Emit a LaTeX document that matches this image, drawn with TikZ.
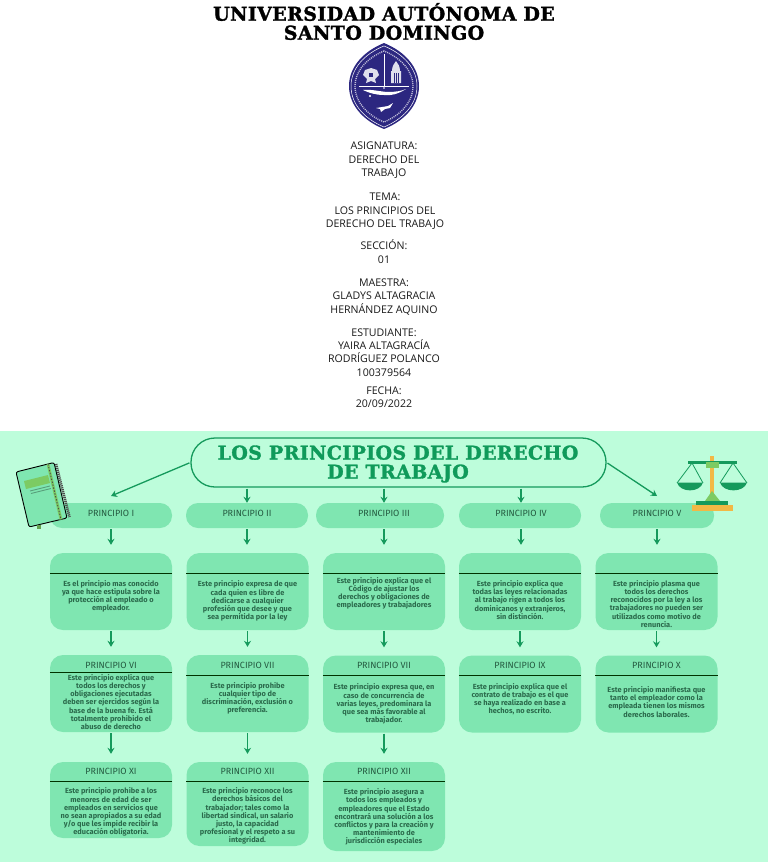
\documentclass[tikz,border=0pt]{standalone}
\usepackage{fontspec}
\setmainfont{Open Sans}
\newfontfamily\titlefont[LetterSpace=2,FakeBold=1.6]{DejaVu Serif}
\newfontfamily\bodyfont{Fira Sans}
\usetikzlibrary{arrows.meta,positioning,shapes.geometric}
\definecolor{panelgreen}{HTML}{BDFDDB}
\definecolor{cardgreen}{HTML}{7FE6B1}
\definecolor{linegreen}{HTML}{159A5C}
\definecolor{inkgreen}{HTML}{2A6A4B}
\definecolor{headgreen}{HTML}{0F9A5A}
\definecolor{seal}{HTML}{2C2780}
\definecolor{scaleorange}{HTML}{F2B845}
\definecolor{leafgreen}{HTML}{7CCB63}
\tikzset{
  pill/.style={fill=cardgreen,rounded corners=12pt,minimum height=25pt,inner sep=0pt},
  cardbox/.style={fill=cardgreen,rounded corners=13pt,inner sep=0pt},
  cardhead/.style={font=\bodyfont\fontsize{9}{10}\selectfont,text=inkgreen!85!black,inner sep=0pt},
  cardtext/.style={font=\bodyfont\bfseries\fontsize{7.4}{8.1}\selectfont,text=inkgreen,align=center,inner sep=0pt},
  divider/.style={black!80!green,line width=.9pt},
  flow/.style={-{Stealth[length=6pt,width=7pt]},linegreen,line width=1.3pt,shorten >=8pt,shorten <=1pt},
  coverblock/.style={align=center,inner sep=0pt,text=black!90,font=\fontsize{10.6}{13.4}\selectfont},
}
\begin{document}
\begin{tikzpicture}[x=1pt,y=-1pt]
	\useasboundingbox (0,0) rectangle (768,862);
	\fill[panelgreen] (0,431) rectangle (768,862);
	% cover page
	\node[align=center,inner sep=0pt,font=\titlefont\bfseries\fontsize{19}{19}\selectfont] (uni) at (384,21.5) {UNIVERSIDAD AUTÓNOMA DE\\SANTO DOMINGO};
	% seal
	\fill[seal] (384,43) .. controls (362,52) and (349,68) .. (349,86) .. controls (349,107) and (366,122) .. (384,129) .. controls (402,122) and (419,107) .. (419,86) .. controls (419,68) and (406,52) .. (384,43) -- cycle;
	\draw[white,line width=.5pt] (384,46) .. controls (364,54) and (351,69) .. (351,86) .. controls (351,106) and (367,120) .. (384,127) .. controls (401,120) and (417,106) .. (417,86) .. controls (417,69) and (404,54) .. (384,46) -- cycle;
	\draw[white!70!seal,line width=1.4pt,dash pattern=on 1pt off 1pt] (384,51) .. controls (367,58) and (355,71) .. (355,86) .. controls (355,103) and (369,116) .. (384,122) .. controls (399,116) and (413,103) .. (413,86) .. controls (413,71) and (401,58) .. (384,51) -- cycle;
	\draw[white,line width=.7pt] (384,54) -- (384,86) (359,86) -- (409,86);
	\fill[white!85!seal] (371,68) -- (377,70) -- (379,75) -- (375,79) -- (376,83) -- (371,81) -- (366,83) -- (367,79) -- (363,75) -- (365,70) -- cycle;
	\fill[seal] (369,73) rectangle (373,77);
	\fill[white!85!seal] (391,83) rectangle (401,71) (392,71) .. controls (392,66) and (394,64) .. (396,61) .. controls (398,64) and (400,66) .. (400,71) -- cycle;
	\draw[seal,line width=.4pt] (394,83) -- (394,73) (396,83) -- (396,73) (398,83) -- (398,73);
	\fill[white] (363,90) .. controls (372,89) and (382,92) .. (388,92) .. controls (395,92) and (402,91) .. (406,89) .. controls (398,94) and (391,96) .. (384,95) .. controls (376,95) and (369,93) .. (363,90) -- cycle;
	\fill[white] (376,108) -- (388,106) -- (393,103) -- (390,108) -- (385,109) -- (381,112) -- (380,109) -- cycle;
	\fill[white] (370,96) circle (1.2) (384,88) circle (.9);
	% cover texts
	\node[coverblock] (asignatura) at (384,160.5) {ASIGNATURA:\\DERECHO DEL\\TRABAJO};
	\node[coverblock] (tema) at (385,211.5) {TEMA:\\LOS PRINCIPIOS DEL\\DERECHO DEL TRABAJO};
	\node[coverblock] (seccion) at (384,251.5) {SECCIÓN:\\01};
	\node[coverblock] (maestra) at (384,297) {MAESTRA:\\GLADYS ALTAGRACIA\\HERNÁNDEZ AQUINO};
	\node[coverblock] (estudiante) at (384,352.5) {ESTUDIANTE:\\YAIRA ALTAGRACÍA\\RODRÍGUEZ POLANCO\\100379564};
	\node[coverblock] (fecha) at (384,397) {FECHA:\\20/09/2022};
	% main title
	\node[draw=linegreen,line width=1.3pt,rounded corners=24pt,minimum width=415pt,minimum height=49pt,inner sep=0pt] (title) at (398.5,462.5) {};
	\node[align=center,inner sep=0pt,text=headgreen,font=\titlefont\bfseries\fontsize{19}{19}\selectfont] (titletext) at (398,464) {LOS PRINCIPIOS DEL DERECHO\\DE TRABAJO};
	% first row
	\node[pill,minimum width=122pt] (p1) at (111,515.5) {};
	\node[pill,minimum width=122pt] (p2) at (247,515.5) {};
	\node[pill,minimum width=128pt] (p3) at (380,515.5) {};
	\node[pill,minimum width=122pt] (p4) at (520,515.5) {};
	\node[pill,minimum width=114pt] (p5) at (657,515.5) {};
	\node[cardhead] (h1) at (111,513) {PRINCIPIO I};
	\node[cardhead] (h2) at (247,513) {PRINCIPIO II};
	\node[cardhead] (h3) at (384,513) {PRINCIPIO III};
	\node[cardhead] (h4) at (521,513) {PRINCIPIO IV};
	\node[cardhead] (h5) at (657,513) {PRINCIPIO V};
	\node[cardbox,minimum width=122pt,minimum height=77pt] (c1) at (111,591.5) {};
	\node[cardbox,minimum width=122pt,minimum height=77pt] (c2) at (247.5,591.5) {};
	\node[cardbox,minimum width=122pt,minimum height=77pt] (c3) at (384,591.5) {};
	\node[cardbox,minimum width=122pt,minimum height=77pt] (c4) at (520,591.5) {};
	\node[cardbox,minimum width=122pt,minimum height=77pt] (c5) at (656.5,591.5) {};
	\draw[divider] (c1.west |- 0,573.5) -- (c1.east |- 0,573.5);
	\draw[divider] (c2.west |- 0,573.5) -- (c2.east |- 0,573.5);
	\draw[divider] (c3.west |- 0,573.5) -- (c3.east |- 0,573.5);
	\draw[divider] (c4.west |- 0,573.5) -- (c4.east |- 0,573.5);
	\draw[divider] (c5.west |- 0,573.5) -- (c5.east |- 0,573.5);
	\node[cardtext] (t1) at (111,596) {Es el principio mas conocido\\ya que hace estipula sobre la\\protección al empleado o\\empleador.};
	\node[cardtext] (t2) at (247.5,601) {Este principio expresa de que\\cada quien es libre de\\dedicarse a cualquier\\profesión que desee y que\\sea permitida por la ley};
	\node[cardtext] (t3) at (384,593) {Este principio explica que el\\Código de ajustar los\\derechos y obligaciones de\\empleadores y trabajadores};
	\node[cardtext] (t4) at (520,600) {Este principio explica que\\todas las leyes relacionadas\\al trabajo rigen a todos los\\dominicanos y extranjeros,\\sin distinción.};
	\node[cardtext] (t5) at (656.5,604) {Este principio plasma que\\todos los derechos\\reconocidos por la ley a los\\trabajadores no pueden ser\\utilizados como motivo de\\renuncia.};
	% second row
	\node[cardbox,minimum width=122pt,minimum height=77pt] (c6) at (111,693.5) {};
	\node[cardbox,minimum width=122pt,minimum height=77pt] (c7) at (247.5,693.5) {};
	\node[cardbox,minimum width=122pt,minimum height=77pt] (c8) at (384,694) {};
	\node[cardbox,minimum width=122pt,minimum height=77pt] (c9) at (520,694) {};
	\node[cardbox,minimum width=122pt,minimum height=77pt] (c10) at (656.5,694) {};
	\draw[divider] (c6.west |- 0,672) -- (c6.east |- 0,672);
	\draw[divider] (c7.west |- 0,675) -- (c7.east |- 0,675);
	\draw[divider] (c8.west |- 0,675.5) -- (c8.east |- 0,675.5);
	\draw[divider] (c9.west |- 0,675.5) -- (c9.east |- 0,675.5);
	\draw[divider] (c10.west |- 0,675.5) -- (c10.east |- 0,675.5);
	\node[cardhead] (h6) at (111,665) {PRINCIPIO VI};
	\node[cardhead] (h7) at (247.5,665) {PRINCIPIO VII};
	\node[cardhead] (h8) at (384,665) {PRINCIPIO VII};
	\node[cardhead] (h9) at (520,665) {PRINCIPIO IX};
	\node[cardhead] (h10) at (656.5,665) {PRINCIPIO X};
	\node[cardtext] (t6) at (111,702) {Este principio explica que\\todos los derechos y\\obligaciones ejecutadas\\deben ser ejercidos según la\\base de la buena fe. Está\\totalmente prohibido el\\abuso de derecho};
	\node[cardtext] (t7) at (247.5,698) {Este principio prohibe\\cualquier tipo de\\discriminación, exclusión o\\preferencia.};
	\node[cardtext] (t8) at (384,704) {Este principio expresa que, en\\caso de concurrencia de\\varias leyes, predominara la\\que sea más favorable al\\trabajador.};
	\node[cardtext] (t9) at (520,699) {Este principio explica que el\\contrato de trabajo es el que\\se haya realizado en base a\\hechos, no escrito.};
	\node[cardtext] (t10) at (656.5,702) {Este principio manifiesta que\\tanto el empleador como la\\empleada tienen los mismos\\derechos laborales.};
	% third row
	\node[cardbox,minimum width=122pt,minimum height=76pt] (c11) at (111,800) {};
	\node[cardbox,minimum width=122pt,minimum height=84pt] (c12) at (247.5,804) {};
	\node[cardbox,minimum width=122pt,minimum height=89pt] (c13) at (384,806.5) {};
	\draw[divider] (c11.west |- 0,781.5) -- (c11.east |- 0,781.5);
	\draw[divider] (c12.west |- 0,781.5) -- (c12.east |- 0,781.5);
	\draw[divider] (c13.west |- 0,781.5) -- (c13.east |- 0,781.5);
	\node[cardhead] (h11) at (111,771) {PRINCIPIO XI};
	\node[cardhead] (h12) at (247.5,771) {PRINCIPIO XII};
	\node[cardhead] (h13) at (384,771) {PRINCIPIO XII};
	\node[cardtext] (t11) at (111,812) {Este principio prohibe a los\\menores de edad de ser\\empleados en servicios que\\no sean apropiados a su edad\\y/o que les impide recibir la\\educación obligatoria.};
	\node[cardtext] (t12) at (247.5,816) {Este principio reconoce los\\derechos básicos del\\trabajador; tales como la\\libertad sindical, un salario\\justo, la capacidad\\profesional y el respeto a su\\integridad.};
	\node[cardtext] (t13) at (384,817) {Este principio asegura a\\todos los empleados y\\empleadores que el Estado\\encontrará una solución a los\\conflictos y para la creación y\\mantenimiento de\\jurisdicción especiales};
	% arrows
	\coordinate (t-left) at (111,496);
	\coordinate (t-right) at (657,496);
	\draw[flow,shorten >=0pt] (title.west) -- (t-left);
	\draw[flow,shorten >=0pt] (title.east) -- (t-right);
	\draw[flow,shorten >=0pt] (title.south -| p2) -- (p2.north);
	\draw[flow,shorten >=0pt] (title.south -| c3) -- (p3.north -| c3);
	\draw[flow,shorten >=0pt] (title.south -| h4) -- (p4.north -| h4);
	\draw[flow] (p1.south) -- (c1.north);
	\draw[flow] (p2.south) -- (p2.south |- c2.north);
	\draw[flow] (p3.south -| c3) -- (c3.north);
	\draw[flow] (p4.south -| h4) -- (h4 |- c4.north);
	\draw[flow] (p5.south) -- (p5.south |- c5.north);
	\draw[flow] (c1.south) -- (c6.north);
	\draw[flow] (c2.south) -- (c7.north);
	\draw[flow] (c3.south) -- (c8.north);
	\draw[flow] (c4.south) -- (c9.north);
	\draw[flow] (c5.south) -- (c10.north);
	\draw[flow] (c6.south) -- (c11.north);
	\draw[flow] (c7.south) -- (c12.north);
	\draw[flow] (c8.south) -- (c13.north);
	% notebook
	\draw[black!70,line width=2.6pt,dash pattern=on 1.2pt off .8pt] (56,464) -- (69.5,517);
	\draw[black,line width=.9pt,fill=cardgreen,rounded corners=2pt] (16,472) -- (54,462.5) -- (67,518) -- (29,527) -- cycle;
	\fill[leafgreen] (24,481) -- (48,475) -- (50,483) -- (26,489) -- cycle;
	\draw[black!30!cardgreen,line width=.9pt] (30,491) -- (50,486) (31,493.5) -- (51,488.5);
	\draw[leafgreen,line width=2.8pt] (48,464) -- (61,519.5);
	\draw[black!70,line width=.9pt,dash pattern=on 1.5pt off 1.5pt] (48,464) -- (61,519.5);
	\fill[leafgreen!80!black] (37,525) rectangle (41,529);
	% scales
	\draw[scaleorange,line width=4.4pt] (712,456) -- (712,497);
	\draw[linegreen,line width=2.8pt] (688,462.5) -- (737,462.5);
	\fill[leafgreen] (706,461.5) rectangle (719,467.5);
	\draw[linegreen,line width=.8pt] (692,463) -- (677,483) (692,463) -- (703,483) (733,463) -- (720,483) (733,463) -- (747,483);
	\fill[linegreen] (677,482.5) .. controls (680,493) and (700,493) .. (703,482.5) -- cycle;
	\fill[linegreen] (720,482.5) .. controls (723,493) and (744,493) .. (747,482.5) -- cycle;
	\fill[leafgreen] (712,491) -- (720,501) -- (705,501) -- cycle;
	\fill[linegreen] (696,501) rectangle (728,505);
	\fill[scaleorange] (692,505) rectangle (733,511);
\end{tikzpicture}
\end{document}
